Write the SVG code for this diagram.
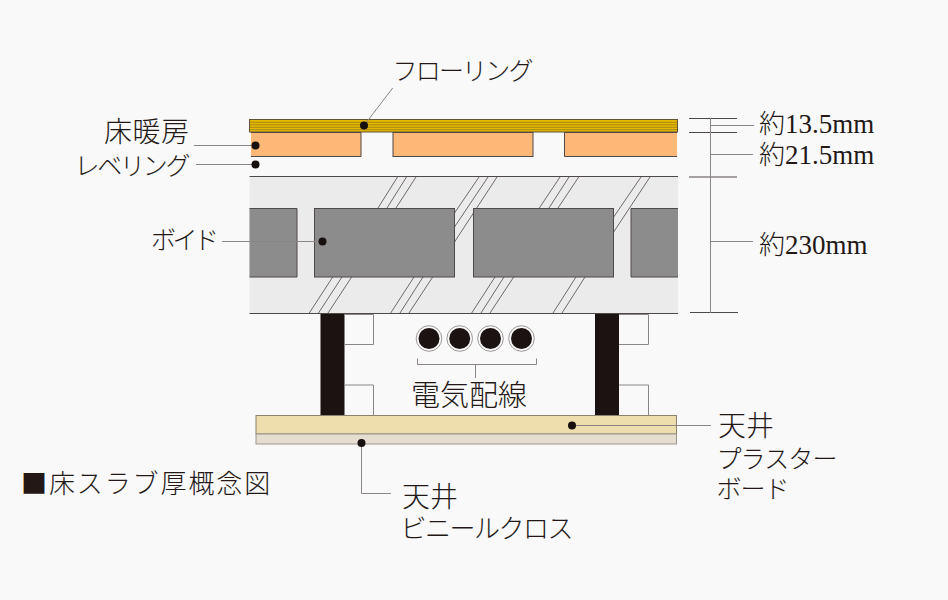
<svg xmlns="http://www.w3.org/2000/svg" width="948" height="600" viewBox="0 0 948 600">
<style>
text{font-family:"Liberation Serif","Noto Sans CJK JP",serif;fill:#231815;font-weight:300}
.j{font-family:"Noto Sans CJK JP",sans-serif;font-weight:300}
.e{stroke:#4e4847;stroke-width:1;fill:none}
.hatch{stroke:#4e4847;stroke-width:.8;fill:none}
.thin{stroke:#8b8685;stroke-width:1;fill:none}
.lead{stroke:#8b8685;stroke-width:1;fill:none}
.dot{fill:#17100e}
.gray{fill:#8c8c8c}
.orange{fill:#fdb777}
.post{fill:#1a1311}
</style>
<rect width="948" height="600" fill="#f9f9f9"/>

<g id="concrete-slab">
<rect x="249.5" y="177" width="428.5" height="136.5" fill="#ebebeb"/>
<path class="hatch" d="M378 208L397.500 177M387 208L406.500 177M396 208L416 177M454.500 213L479 177M454.500 227L488 177M454.500 242L497 177M539.300 208L560 177M549 208L569 177M558 208L578.700 177M613 218L641 177M613 233L650 177M309.300 313L332.700 277M318.500 313L342 277M328 313L351.700 277M390.700 313L414 277M400 313L423 277M409 313L432.700 277M471.700 313L495 277M481 313L504 277M490 313L513.700 277M553 313L576 277M562 313L585 277"/>
<path class="e" d="M249.500 176.500H678M249.500 313.500H678"/>
</g>

<g id="void">
<rect class="gray" x="249.500" y="208.500" width="47.500" height="68.500"/>
<path class="e" d="M249.500 208.500H297V277H249.500"/>
<rect class="gray e" x="314.500" y="208.500" width="140" height="68.500" style="fill:#8c8c8c"/>
<rect class="gray e" x="473.500" y="208.500" width="140" height="68.500" style="fill:#8c8c8c"/>
<rect class="gray" x="631" y="208.500" width="47" height="68.500"/>
<path class="e" d="M678 208.500H631V277H678"/>
<text class="j" x="151" y="249" font-size="25" textLength="68">ボイド</text>
</g>

<g id="flooring">
<rect x="249.500" y="119.500" width="428" height="12.500" fill="#e6b800" stroke="#5f5336" stroke-width="1"/>
<path d="M250 122.300H677M250 124.800H677M250 127.300H677M250 129.700H677" stroke="#7d6a1d" stroke-width=".6" fill="none"/>
<text class="j" x="392.500" y="80" font-size="25" textLength="141">フローリング</text>
</g>

<g id="floor-heating">
<rect class="orange" x="251" y="132.500" width="110" height="24"/>
<path class="e" d="M251 132.500H361V156.500H251"/>
<rect class="orange e" x="393" y="132.500" width="140" height="24" style="fill:#fdb777"/>
<rect class="orange" x="564.500" y="132.500" width="112.500" height="24"/>
<path class="e" d="M677 132.500H564.500V156.500H677"/>
<text class="j" x="104" y="142" font-size="28" textLength="85">床暖房</text>
</g>

<g id="leveling">
<text class="j" x="74.500" y="175" font-size="25" textLength="116">レベリング</text>
</g>

<g id="posts">
<rect class="post" x="320.500" y="314" width="24" height="101.500"/>
<rect class="post" x="595" y="314" width="24" height="101.500"/>
<path class="thin" d="M344.500 314.500H373.500V344.500H344.500M344.500 385H373.500V415.500H344.500M619 314.500H648.500V344.500H619M619 385H648.500V415.500H619"/>
</g>

<g id="wiring">
<circle cx="429" cy="338.500" r="12.800" fill="none" stroke="#9b9796"/><circle class="post" cx="429" cy="338.500" r="10.500"/>
<circle cx="459.700" cy="338.500" r="12.800" fill="none" stroke="#9b9796"/><circle class="post" cx="459.700" cy="338.500" r="10.500"/>
<circle cx="490.500" cy="338.500" r="12.800" fill="none" stroke="#9b9796"/><circle class="post" cx="490.500" cy="338.500" r="10.500"/>
<circle cx="521.500" cy="338.500" r="12.800" fill="none" stroke="#9b9796"/><circle class="post" cx="521.500" cy="338.500" r="10.500"/>
<path class="thin" d="M417.500 358.500V364.500H536.500V358.500M475.500 364.500V378"/>
<text class="j" x="411" y="406" font-size="29" textLength="116">電気配線</text>
</g>

<g id="ceiling-board">
<rect x="256" y="415.500" width="420.500" height="18.500" fill="#efdead" stroke="#8b8270"/>
<text class="j" x="718" y="436" font-size="28" textLength="56">天井</text>
<text class="j" x="716.500" y="468" font-size="25" textLength="121">プラスター</text>
<text class="j" x="716.500" y="498" font-size="25" textLength="73">ボード</text>
</g>

<g id="ceiling-vinyl">
<rect x="256" y="434" width="420.500" height="10" fill="#e5ddd0" stroke="#9b9590"/>
<text class="j" x="402" y="507" font-size="28" textLength="56">天井</text>
<text class="j" x="400.500" y="538" font-size="26" textLength="173">ビニールクロス</text>
</g>

<g id="dimensions">
<path class="e" d="M689 118.500H737M689 132.500H737M689 177H737M690 312.500H738"/>
<text x="759" y="132.800" font-size="27"><tspan class="j" font-size="26">約</tspan>13.5mm</text>
<text x="759" y="163.600" font-size="27"><tspan class="j" font-size="26">約</tspan>21.5mm</text>
<text x="759" y="253.500" font-size="27"><tspan class="j" font-size="26">約</tspan>230mm</text>
</g>

<g id="title">
<text class="j" x="21" y="493" font-size="26" letter-spacing="1.900">■床スラブ厚概念図</text>
</g>

<g id="connectors">
<path class="lead" d="M392.700 88L364 125.500M194 145.500H255.500M196 164.500H255.500M222 241.500H322.500M572 425.500H711M361.500 443V493.500H391M710.500 118V313M711 125.500H754M711 154.500H753M711 241.500H753"/>
<circle class="dot" cx="364" cy="125.500" r="4"/>
<circle class="dot" cx="255.500" cy="145.500" r="4"/>
<circle class="dot" cx="255.500" cy="164.500" r="4"/>
<circle class="dot" cx="322.500" cy="241.500" r="4"/>
<circle class="dot" cx="572" cy="425.500" r="4"/>
<circle class="dot" cx="361.500" cy="443" r="4"/>
</g>
</svg>
